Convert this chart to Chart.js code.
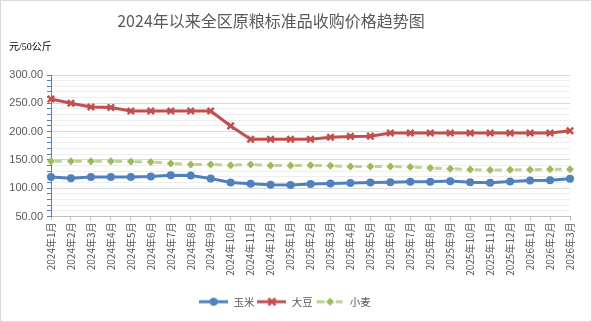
<!DOCTYPE html>
<html>
<head>
<meta charset="utf-8">
<script src="https://cdn.jsdelivr.net/npm/chart.js@4"></script>
<style>
  html, body { margin: 0; padding: 0; background: #fff; }
  #wrap { width: 592px; height: 322px; position: relative; }
</style>
</head>
<body>
<div id="wrap"><canvas id="priceChart"></canvas></div>
<script>
// Data
const months = [
  '2024年1月', '2024年2月', '2024年3月', '2024年4月', '2024年5月', '2024年6月',
  '2024年7月', '2024年8月', '2024年9月', '2024年10月', '2024年11月', '2024年12月',
  '2025年1月', '2025年2月', '2025年3月', '2025年4月', '2025年5月', '2025年6月',
  '2025年7月', '2025年8月', '2025年9月', '2025年10月', '2025年11月', '2025年12月',
  '2026年1月', '2026年2月', '2026年3月'
];
const corn = [120, 117.5, 120, 120, 120, 120.5, 123, 122.5, 117, 110, 108, 106,
  105.5, 107.5, 108.5, 109, 110, 110.5, 111.5, 111.5, 112.5, 110.5, 109.5, 112,
  113.5, 114, 116.5];
const soybean = [257.5, 250, 243.5, 242.5, 236.5, 236.5, 236.5, 236.5, 236.5, 210, 186.5, 186.5,
  186.5, 186.5, 190, 191.5, 192, 197.5, 197.5, 197.5, 197.5, 197.5, 197.5, 197.5,
  197.5, 197.5, 201.5];
const wheat = [147.5, 147.5, 147.5, 147.5, 147, 146.5, 143.5, 142, 142, 140.5, 142, 140,
  140, 140.5, 139.5, 138.5, 138.5, 138.5, 137.5, 135.5, 134.5, 133, 132, 132.5,
  132.5, 133.5, 133.5];
const seriesNames = ['玉米', '大豆', '小麦'];
const chartTitle = '2024年以来全区原粮标准品收购价格趋势图';
const unitLabel = '元/50公斤';

const BLUE = '#4f81bd';
const RED = '#c0504d';
const GREEN = '#9bbb59';
const GREEN_LIGHT = '#bcd38f';
const TEXT = '#595959';
const CJK = "'Noto Sans CJK SC', 'Liberation Sans', sans-serif";

// Excel-like legend keys: a short line with the marker in the middle
function legendKey(kind) {
  const c = document.createElement('canvas');
  c.width = 29;
  c.height = 12;
  const g = c.getContext('2d');
  const y = 6;
  const mid = 14.5;
  if (kind === 'corn') {
    g.strokeStyle = BLUE; g.lineWidth = 3;
    g.beginPath(); g.moveTo(0, y); g.lineTo(29, y); g.stroke();
    g.fillStyle = BLUE;
    g.beginPath(); g.arc(mid, y, 4, 0, Math.PI * 2); g.fill();
  } else if (kind === 'soy') {
    g.strokeStyle = RED; g.lineWidth = 3;
    g.beginPath(); g.moveTo(0, y); g.lineTo(29, y); g.stroke();
    g.lineWidth = 2.5;
    g.beginPath();
    g.moveTo(mid - 3.5, y - 3.5); g.lineTo(mid + 3.5, y + 3.5);
    g.moveTo(mid + 3.5, y - 3.5); g.lineTo(mid - 3.5, y + 3.5);
    g.stroke();
  } else {
    g.strokeStyle = GREEN_LIGHT; g.lineWidth = 3;
    g.beginPath(); g.moveTo(1, y); g.lineTo(9, y); g.moveTo(20, y); g.lineTo(27, y); g.stroke();
    g.fillStyle = GREEN;
    g.beginPath();
    g.moveTo(mid, y - 4); g.lineTo(mid + 4, y); g.lineTo(mid, y + 4); g.lineTo(mid - 4, y);
    g.closePath(); g.fill();
  }
  return c;
}
const legendKeys = [legendKey('corn'), legendKey('soy'), legendKey('wheat')];

// Title, unit label and the outer frame
const frameAndTitle = {
  id: 'frameAndTitle',
  beforeDraw(chart) {
    const ctx = chart.ctx;
    ctx.save();
    ctx.fillStyle = '#ffffff';
    ctx.fillRect(0, 0, chart.width, chart.height);
    ctx.restore();
  },
  afterDraw(chart) {
    const ctx = chart.ctx;
    ctx.save();
    ctx.strokeStyle = '#d9d9d9';
    ctx.lineWidth = 1;
    ctx.strokeRect(0.5, 0.5, chart.width - 1, chart.height - 1);
    ctx.fillStyle = TEXT;
    ctx.font = "16px " + CJK;
    ctx.textAlign = 'center';
    ctx.textBaseline = 'middle';
    ctx.fillText(chartTitle, 271, 21);
    ctx.fillStyle = '#000000';
    ctx.font = "10px 'Liberation Serif', 'Noto Sans CJK SC', serif";
    ctx.textAlign = 'left';
    ctx.fillText(unitLabel, 9, 47);
    ctx.restore();
  }
};

new Chart(document.getElementById('priceChart'), {
  type: 'line',
  data: {
    labels: months,
    datasets: [
      {
        label: seriesNames[0],
        data: corn,
        borderColor: BLUE,
        backgroundColor: BLUE,
        borderWidth: 3,
        pointStyle: 'circle',
        pointRadius: 4,
        pointBorderWidth: 0,
        pointBackgroundColor: BLUE,
        tension: 0
      },
      {
        label: seriesNames[1],
        data: soybean,
        borderColor: RED,
        backgroundColor: RED,
        borderWidth: 3,
        pointStyle: 'crossRot',
        pointRadius: 4.5,
        pointBorderWidth: 2.5,
        pointBorderColor: RED,
        tension: 0
      },
      {
        label: seriesNames[2],
        data: wheat,
        borderColor: GREEN_LIGHT,
        backgroundColor: GREEN,
        borderWidth: 3,
        borderDash: [7, 13],
        borderDashOffset: 16,
        pointStyle: 'rectRot',
        pointRadius: 4,
        pointBorderWidth: 0,
        pointBackgroundColor: GREEN,
        tension: 0
      }
    ]
  },
  options: {
    responsive: true,
    maintainAspectRatio: false,
    animation: false,
    layout: { padding: { top: 75, right: 22, bottom: 5, left: 0 } },
    plugins: {
      title: { display: false },
      tooltip: { enabled: false },
      legend: {
        display: true,
        position: 'bottom',
        labels: {
          usePointStyle: true,
          pointStyleWidth: 29,
          padding: 3,
          color: TEXT,
          font: { family: CJK, size: 10.5 },
          generateLabels(chart) {
            const items = Chart.defaults.plugins.legend.labels.generateLabels(chart);
            items.forEach((it, i) => { it.pointStyle = legendKeys[i]; });
            return items;
          }
        }
      }
    },
    scales: {
      x: {
        offset: false,
        afterFit(scale) { scale.height = 77; },
        border: { color: '#bfbfbf', width: 1 },
        grid: {
          drawOnChartArea: false,
          drawTicks: true,
          tickLength: 4,
          tickColor: '#bfbfbf'
        },
        ticks: {
          autoSkip: false,
          minRotation: 90,
          maxRotation: 90,
          padding: 2,
          color: TEXT,
          font: { family: CJK, size: 10 }
        }
      },
      y: {
        min: 50,
        max: 300,
        afterFit(scale) { scale.width = 51; },
        border: { color: BLUE, width: 1 },
        grid: {
          color: (c) => (c.tick && c.tick.value % 50 === 0) ? '#d9d9d9' : '#eeeeee',
          tickColor: BLUE,
          tickLength: 4
        },
        ticks: {
          stepSize: 10,
          autoSkip: false,
          padding: 4,
          color: TEXT,
          font: { family: "'Liberation Sans', sans-serif", size: 11 },
          callback: (v) => (v % 50 === 0 ? v.toFixed(2) : '')
        }
      }
    }
  },
  plugins: [frameAndTitle]
});
</script>
</body>
</html>
